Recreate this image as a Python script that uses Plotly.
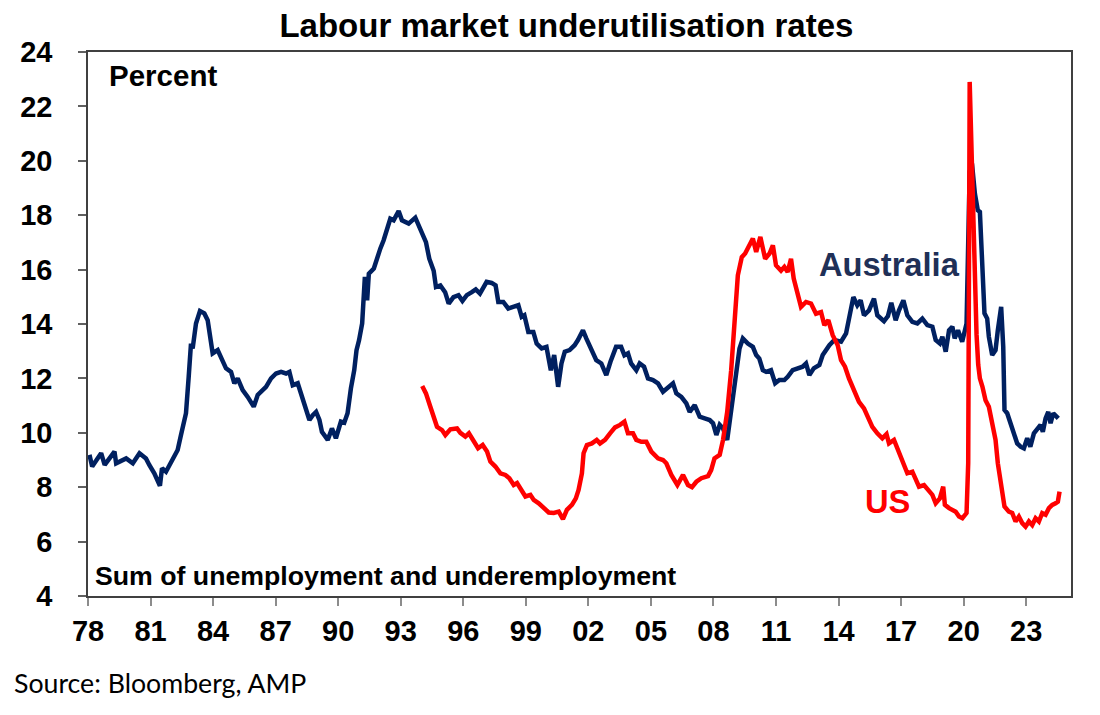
import plotly.graph_objects as go

# values (decimal year, percent)
aus_years = [
    1978.07, 1978.2, 1978.63, 1978.8, 1979.27, 1979.35, 1979.83, 1980.15, 1980.47, 1980.78,
    1980.94, 1981.18, 1981.45, 1981.55, 1981.74, 1981.98, 1982.3, 1982.46, 1982.7, 1982.83,
    1982.94, 1983.02, 1983.18, 1983.37, 1983.58, 1983.74, 1983.98, 1984.22, 1984.38, 1984.62,
    1984.86, 1985.02, 1985.18, 1985.42, 1985.66, 1985.95, 1986.14, 1986.38, 1986.54, 1986.78,
    1987.02, 1987.26, 1987.5, 1987.66, 1987.82, 1988.06, 1988.22, 1988.38, 1988.49, 1988.62,
    1988.78, 1988.94, 1989.1, 1989.22, 1989.5, 1989.7, 1989.89, 1990.13, 1990.29, 1990.45,
    1990.61, 1990.77, 1990.88, 1991.0, 1991.15, 1991.28, 1991.39, 1991.47, 1991.71, 1991.87,
    1992.02, 1992.18, 1992.34, 1992.5, 1992.66, 1992.9, 1993.06, 1993.38, 1993.7, 1993.94,
    1994.21, 1994.37, 1994.58, 1994.69, 1994.9, 1995.13, 1995.3, 1995.53, 1995.77, 1995.96,
    1996.17, 1996.41, 1996.6, 1996.8, 1997.12, 1997.36, 1997.55, 1997.68, 1997.92, 1998.16,
    1998.4, 1998.64, 1998.8, 1998.93, 1999.12, 1999.36, 1999.52, 1999.76, 1999.99, 2000.2,
    2000.36, 2000.55, 2000.71, 2000.87, 2001.1, 2001.34, 2001.5, 2001.74, 2001.9, 2002.14,
    2002.38, 2002.62, 2002.86, 2003.06, 2003.33, 2003.57, 2003.73, 2003.9, 2004.05, 2004.3,
    2004.46, 2004.67, 2004.86, 2005.1, 2005.34, 2005.58, 2005.82, 2006.06, 2006.22, 2006.46,
    2006.7, 2006.86, 2007.1, 2007.34, 2007.58, 2007.82, 2007.98, 2008.14, 2008.3, 2008.46,
    2008.66, 2008.77, 2008.93, 2009.09, 2009.25, 2009.41, 2009.65, 2009.89, 2010.05, 2010.2,
    2010.37, 2010.53, 2010.76, 2010.96, 2011.16, 2011.4, 2011.56, 2011.8, 2012.04, 2012.28,
    2012.44, 2012.6, 2012.81, 2013.08, 2013.24, 2013.4, 2013.56, 2013.8, 2014.12, 2014.36,
    2014.5, 2014.71, 2014.9, 2015.06, 2015.22, 2015.46, 2015.7, 2015.86, 2016.18, 2016.37,
    2016.53, 2016.74, 2016.9, 2017.11, 2017.3, 2017.54, 2017.78, 2018.02, 2018.26, 2018.5,
    2018.66, 2018.86, 2018.98, 2019.14, 2019.3, 2019.46, 2019.57, 2019.73, 2019.93, 2020.04,
    2020.14, 2020.29, 2020.4, 2020.54, 2020.68, 2020.78, 2020.89, 2021.0, 2021.13, 2021.21,
    2021.37, 2021.53, 2021.64, 2021.8, 2021.9, 2021.96, 2022.09, 2022.25, 2022.41, 2022.57,
    2022.73, 2022.89, 2023.05, 2023.2, 2023.37, 2023.53, 2023.69, 2023.8, 2023.93, 2024.06,
    2024.17, 2024.3, 2024.41, 2024.54,
]
aus_rate = [
    9.19, 8.76, 9.25, 8.82, 9.31, 8.88, 9.06, 8.88, 9.25, 9.06,
    8.82, 8.51, 8.05, 8.70, 8.57, 8.94, 9.37, 9.92, 10.72, 12.06,
    13.28, 13.10, 14.02, 14.48, 14.39, 14.14, 12.92, 13.04, 12.79, 12.37,
    12.24, 11.82, 12.00, 11.57, 11.32, 10.96, 11.39, 11.57, 11.69, 12.00,
    12.18, 12.24, 12.18, 12.24, 11.75, 11.82, 11.45, 11.14, 10.77, 10.47,
    10.65, 10.77, 10.47, 10.04, 9.74, 10.16, 9.80, 10.41, 10.37, 10.72,
    11.63, 12.30, 13.04, 13.40, 14.02, 15.73, 14.87, 15.85, 16.04, 16.46,
    16.77, 17.08, 17.44, 17.87, 17.81, 18.15, 17.81, 17.69, 17.91, 17.44,
    17.01, 16.40, 15.96, 15.36, 15.42, 15.17, 14.75, 14.99, 15.06, 14.85,
    15.06, 15.17, 15.27, 15.12, 15.55, 15.51, 15.42, 14.81, 14.81, 14.57,
    14.63, 14.69, 14.26, 14.32, 13.71, 13.71, 13.28, 13.10, 13.16, 12.30,
    12.86, 11.69, 12.55, 12.98, 13.04, 13.22, 13.41, 13.77, 13.47, 13.04,
    12.67, 12.55, 12.12, 12.61, 13.16, 13.16, 12.85, 12.92, 12.55, 12.30,
    12.55, 12.43, 12.00, 11.94, 11.82, 11.51, 11.69, 11.82, 11.45, 11.32,
    11.08, 10.77, 11.02, 10.59, 10.53, 10.47, 10.35, 9.92, 10.29, 10.16,
    9.74, 10.35, 11.20, 12.30, 13.10, 13.47, 13.28, 13.16, 12.86, 12.73,
    12.30, 12.24, 12.30, 11.82, 11.94, 11.94, 12.06, 12.30, 12.37, 12.43,
    12.55, 12.12, 12.37, 12.49, 12.86, 13.04, 13.22, 13.41, 13.35, 13.65,
    14.14, 14.99, 14.69, 14.87, 14.32, 14.50, 14.93, 14.32, 14.10, 14.29,
    14.78, 14.14, 14.50, 14.87, 14.32, 14.08, 14.02, 14.20, 13.96, 13.90,
    13.41, 13.28, 13.53, 12.98, 13.77, 13.90, 13.47, 13.77, 13.35, 13.77,
    14.02, 19.60, 19.90, 18.79, 18.18, 18.12, 16.34, 14.39, 14.20, 13.53,
    12.86, 13.04, 13.77, 14.63, 13.16, 10.84, 10.72, 10.35, 9.86, 9.61,
    9.49, 9.43, 9.80, 9.49, 9.98, 10.16, 10.29, 10.04, 10.53, 10.77,
    10.35, 10.72, 10.65, 10.53,
]

us_years = [
    1994.03, 1994.21, 1994.42, 1994.58, 1994.74, 1994.98, 1995.14, 1995.38, 1995.7, 1995.86,
    1996.1, 1996.27, 1996.5, 1996.71, 1996.93, 1997.14, 1997.3, 1997.54, 1997.78, 1998.02,
    1998.21, 1998.42, 1998.58, 1998.82, 1998.98, 1999.22, 1999.38, 1999.62, 1999.86, 2000.1,
    2000.34, 2000.58, 2000.78, 2000.97, 2001.21, 2001.4, 2001.53, 2001.69, 2001.77, 2001.93,
    2002.17, 2002.4, 2002.56, 2002.8, 2003.04, 2003.28, 2003.52, 2003.73, 2003.9, 2004.14,
    2004.3, 2004.54, 2004.78, 2005.02, 2005.34, 2005.58, 2005.74, 2005.98, 2006.27, 2006.54,
    2006.78, 2006.97, 2007.18, 2007.42, 2007.74, 2007.89, 2008.05, 2008.3, 2008.46, 2008.66,
    2008.85, 2009.01, 2009.17, 2009.36, 2009.52, 2009.68, 2009.89, 2010.05, 2010.25, 2010.48,
    2010.69, 2010.85, 2011.0, 2011.24, 2011.4, 2011.56, 2011.72, 2011.85, 2012.0, 2012.2,
    2012.44, 2012.68, 2012.92, 2013.16, 2013.32, 2013.51, 2013.72, 2013.96, 2014.12, 2014.31,
    2014.5, 2014.74, 2014.98, 2015.22, 2015.46, 2015.62, 2015.86, 2016.1, 2016.3, 2016.42,
    2016.66, 2016.82, 2016.98, 2017.14, 2017.3, 2017.54, 2017.7, 2017.86, 2018.1, 2018.34,
    2018.5, 2018.66, 2018.86, 2019.02, 2019.1, 2019.3, 2019.46, 2019.62, 2019.78, 2019.94,
    2020.14, 2020.22, 2020.29, 2020.37, 2020.45, 2020.53, 2020.62, 2020.7, 2020.78, 2020.9,
    2021.05, 2021.21, 2021.37, 2021.53, 2021.64, 2021.8, 2021.96, 2022.17, 2022.33, 2022.49,
    2022.65, 2022.81, 2022.97, 2023.13, 2023.29, 2023.45, 2023.61, 2023.77, 2023.93, 2024.09,
    2024.25, 2024.41, 2024.52, 2024.6,
]
us_rate = [
    11.72, 11.45, 10.96, 10.59, 10.22, 10.10, 9.92, 10.13, 10.16, 10.00,
    9.86, 9.98, 9.67, 9.43, 9.55, 9.31, 8.94, 8.76, 8.51, 8.45,
    8.33, 8.08, 8.15, 7.84, 7.66, 7.72, 7.53, 7.41, 7.23, 7.07,
    7.05, 7.10, 6.83, 7.17, 7.35, 7.59, 7.90, 8.51, 9.25, 9.55,
    9.61, 9.74, 9.61, 9.74, 9.98, 10.20, 10.29, 10.41, 9.98, 9.98,
    9.74, 9.67, 9.67, 9.31, 9.06, 9.00, 8.88, 8.45, 8.08, 8.45,
    8.08, 8.00, 8.20, 8.33, 8.41, 8.63, 9.06, 9.19, 9.74, 10.77,
    12.30, 14.02, 15.79, 16.46, 16.59, 16.83, 17.14, 16.65, 17.20, 16.40,
    16.59, 16.89, 16.16, 15.96, 16.10, 15.91, 16.40, 15.67, 15.17, 14.63,
    14.81, 14.75, 14.38, 14.44, 13.96, 14.14, 13.59, 13.22, 12.67, 12.43,
    12.00, 11.57, 11.14, 10.90, 10.53, 10.22, 9.98, 9.80, 9.95, 9.61,
    9.74, 9.43, 9.12, 8.82, 8.51, 8.57, 8.27, 8.02, 8.08, 7.84,
    7.72, 7.41, 7.59, 8.02, 7.35, 7.23, 7.17, 7.10, 6.92, 6.86,
    7.05, 8.90, 22.90, 20.30, 17.50, 15.50, 13.60, 12.50, 12.00, 11.70,
    11.20, 10.96, 10.35, 9.74, 8.88, 8.15, 7.29, 7.10, 7.05, 6.74,
    6.92, 6.68, 6.55, 6.74, 6.61, 6.86, 6.74, 7.05, 6.99, 7.23,
    7.35, 7.41, 7.47, 7.84,
]

x_ticks = list(range(1978, 2024, 3))
x_labels = [f"{y % 100:02d}" for y in x_ticks]
y_ticks = list(range(4, 25, 2))

navy = "#002060"
red = "#FF0000"
arial = "Liberation Sans, Arial"
bold = dict(family=arial, color="black", weight="bold")

fig = go.Figure()
fig.add_trace(go.Scatter(x=aus_years, y=aus_rate, mode="lines", name="Australia",
                         line=dict(color=navy, width=4.5)))
fig.add_trace(go.Scatter(x=us_years, y=us_rate, mode="lines", name="US",
                         line=dict(color=red, width=4.5)))

# page body has an 8px margin, so the figure is 8px smaller and margins shifted
fig.update_layout(
    width=1092, height=707,
    paper_bgcolor="white", plot_bgcolor="white",
    margin=dict(l=77, r=29, t=44, b=119),
    showlegend=False,
    title=dict(text="Labour market underutilisation rates", x=0.5114, xanchor="center",
               y=0.975, yanchor="middle", font=dict(size=33, **bold)),
)
fig.update_xaxes(
    range=[1978, 2025.15], tickvals=x_ticks, ticktext=x_labels,
    showgrid=False, zeroline=False,
    showline=True, linecolor="#404040", linewidth=1.5, mirror=True,
    ticks="outside", ticklen=8, tickwidth=1.5, tickcolor="#8c8c8c",
    ticklabelstandoff=0, tickfont=dict(size=29, **bold),
)
fig.update_yaxes(
    range=[4, 24], tickvals=y_ticks,
    showgrid=False, zeroline=False,
    showline=True, linecolor="#404040", linewidth=1.5, mirror=True,
    ticks="outside", ticklen=8, tickwidth=1.5, tickcolor="#606060",
    ticklabelstandoff=20, tickfont=dict(size=29, **bold),
)

fig.add_annotation(text="Percent", x=0.0193, y=0.956, xref="paper", yref="paper",
                   xanchor="left", yanchor="middle", showarrow=False,
                   font=dict(size=29.5, **bold))
fig.add_annotation(text="Sum of unemployment and underemployment", x=0.005, y=0.037,
                   xref="paper", yref="paper", xanchor="left", yanchor="middle",
                   showarrow=False, font=dict(size=26.7, **bold))
fig.add_annotation(text="Australia", x=2012.97, y=16.19, xanchor="left", yanchor="middle",
                   showarrow=False,
                   font=dict(size=32.7, family=arial, color="#1F3057", weight="bold"))
fig.add_annotation(text="US", x=2015.18, y=7.46, xanchor="left", yanchor="middle",
                   showarrow=False,
                   font=dict(size=32.7, family=arial, color=red, weight="bold"))
fig.add_annotation(text="Source: Bloomberg, AMP", x=-0.077, y=-0.160, xref="paper", yref="paper",
                   xanchor="left", yanchor="middle", showarrow=False,
                   font=dict(size=26.7, family="Lato, Carlito, sans-serif", color="black"))

fig.write_html("out.html")
